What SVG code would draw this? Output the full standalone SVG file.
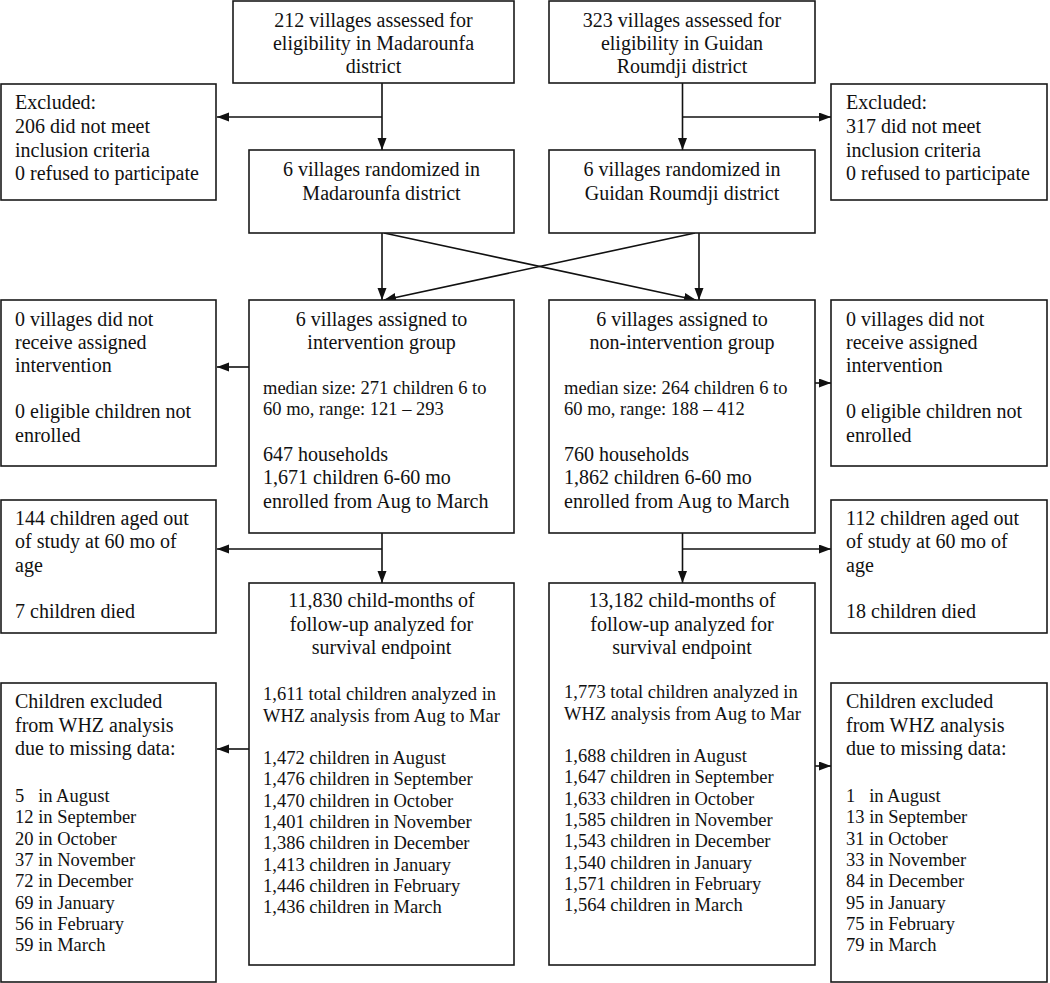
<svg xmlns="http://www.w3.org/2000/svg" width="1050" height="983" viewBox="0 0 1050 983">
<defs>
<style>
.box{fill:#fff;stroke:#1a1a1a;stroke-width:1.6}
.ln{fill:none;stroke:#111;stroke-width:1.6}
text{font-family:"Liberation Serif","Times New Roman",serif;font-size:20px;fill:#111}
.s{font-size:18.5px}
.c{text-anchor:middle}
</style>
<marker id="ah" markerUnits="userSpaceOnUse" markerWidth="12" markerHeight="10" refX="12" refY="4.5" orient="auto">
<path d="M0,0 L12,4.5 L0,9 z" fill="#111"/>
</marker>
</defs>
<rect width="1050" height="983" fill="#fff"/>

<g id="connectors">
<line class="ln" x1="382" y1="83" x2="382" y2="150" marker-end="url(#ah)"/>
<line class="ln" x1="382" y1="117" x2="217" y2="117" marker-end="url(#ah)"/>
<line class="ln" x1="682.5" y1="83" x2="682.5" y2="150" marker-end="url(#ah)"/>
<line class="ln" x1="682.5" y1="117" x2="831" y2="117" marker-end="url(#ah)"/>
<line class="ln" x1="382" y1="233" x2="382" y2="300" marker-end="url(#ah)"/>
<line class="ln" x1="699" y1="233" x2="699" y2="300" marker-end="url(#ah)"/>
<line class="ln" x1="384" y1="233" x2="696" y2="300" marker-end="url(#ah)"/>
<line class="ln" x1="695" y1="233" x2="384" y2="300" marker-end="url(#ah)"/>
<line class="ln" x1="249" y1="367" x2="217" y2="367" marker-end="url(#ah)"/>
<line class="ln" x1="815" y1="383" x2="831" y2="383" marker-end="url(#ah)"/>
<line class="ln" x1="382" y1="533" x2="382" y2="583" marker-end="url(#ah)"/>
<line class="ln" x1="382" y1="549" x2="217" y2="549" marker-end="url(#ah)"/>
<line class="ln" x1="682.5" y1="533" x2="682.5" y2="583" marker-end="url(#ah)"/>
<line class="ln" x1="682.5" y1="549" x2="831" y2="549" marker-end="url(#ah)"/>
<line class="ln" x1="249" y1="749" x2="217" y2="749" marker-end="url(#ah)"/>
<line class="ln" x1="815" y1="766" x2="831" y2="766" marker-end="url(#ah)"/>
</g>

<g id="assessed-madarounfa">
<rect class="box" x="233" y="1" width="281" height="82"/>
<text class="c" x="373.5" y="27">212 villages assessed for</text>
<text class="c" x="373.5" y="50">eligibility in Madarounfa</text>
<text class="c" x="373.5" y="73">district</text>
</g>

<g id="assessed-guidan">
<rect class="box" x="549" y="1" width="266" height="82"/>
<text class="c" x="682" y="27">323 villages assessed for</text>
<text class="c" x="682" y="50">eligibility in Guidan</text>
<text class="c" x="682" y="73">Roumdji district</text>
</g>

<g id="excluded-left">
<rect class="box" x="1" y="84" width="215" height="116"/>
<text x="15" y="109">Excluded:</text>
<text x="15" y="133">206 did not meet</text>
<text x="15" y="157">inclusion criteria</text>
<text x="15" y="180">0 refused to participate</text>
</g>

<g id="excluded-right">
<rect class="box" x="831" y="84" width="216" height="116"/>
<text x="846" y="109">Excluded:</text>
<text x="846" y="133">317 did not meet</text>
<text x="846" y="157">inclusion criteria</text>
<text x="846" y="180">0 refused to participate</text>
</g>

<g id="randomized-madarounfa">
<rect class="box" x="249" y="150" width="265" height="83"/>
<text class="c" x="381.5" y="176">6 villages randomized in</text>
<text class="c" x="381.5" y="200">Madarounfa district</text>
</g>

<g id="randomized-guidan">
<rect class="box" x="549" y="150" width="266" height="83"/>
<text class="c" x="682" y="176">6 villages randomized in</text>
<text class="c" x="682" y="200">Guidan Roumdji district</text>
</g>

<g id="notreceived-left">
<rect class="box" x="1" y="300" width="215" height="166"/>
<text x="15" y="326">0 villages did not</text>
<text x="15" y="349">receive assigned</text>
<text x="15" y="372">intervention</text>
<text x="15" y="418">0 eligible children not</text>
<text x="15" y="442">enrolled</text>
</g>

<g id="intervention">
<rect class="box" x="249" y="300" width="265" height="233"/>
<text class="c" x="381.5" y="326">6 villages assigned to</text>
<text class="c" x="381.5" y="349">intervention group</text>
<text class="s" x="263" y="394">median size: 271 children 6 to</text>
<text class="s" x="263" y="415">60 mo, range: 121 – 293</text>
<text x="263" y="461">647 households</text>
<text x="263" y="484">1,671 children 6-60 mo</text>
<text x="263" y="508">enrolled from Aug to March</text>
</g>

<g id="non-intervention">
<rect class="box" x="549" y="300" width="266" height="233"/>
<text class="c" x="682" y="326">6 villages assigned to</text>
<text class="c" x="682" y="349">non-intervention group</text>
<text class="s" x="564" y="394">median size: 264 children 6 to</text>
<text class="s" x="564" y="415">60 mo, range: 188 – 412</text>
<text x="564" y="461">760 households</text>
<text x="564" y="484">1,862 children 6-60 mo</text>
<text x="564" y="508">enrolled from Aug to March</text>
</g>

<g id="notreceived-right">
<rect class="box" x="831" y="300" width="216" height="166"/>
<text x="846" y="326">0 villages did not</text>
<text x="846" y="349">receive assigned</text>
<text x="846" y="372">intervention</text>
<text x="846" y="418">0 eligible children not</text>
<text x="846" y="442">enrolled</text>
</g>

<g id="agedout-left">
<rect class="box" x="1" y="500" width="215" height="133"/>
<text x="15" y="525">144 children aged out</text>
<text x="15" y="548">of study at 60 mo of</text>
<text x="15" y="572">age</text>
<text x="15" y="618">7 children died</text>
</g>

<g id="agedout-right">
<rect class="box" x="831" y="500" width="216" height="133"/>
<text x="846" y="525">112 children aged out</text>
<text x="846" y="548">of study at 60 mo of</text>
<text x="846" y="572">age</text>
<text x="846" y="618">18 children died</text>
</g>

<g id="followup-intervention">
<rect class="box" x="249" y="583" width="265" height="382"/>
<text class="c" x="381.5" y="607">11,830 child-months of</text>
<text class="c" x="381.5" y="631">follow-up analyzed for</text>
<text class="c" x="381.5" y="654">survival endpoint</text>
<text class="s" x="263" y="700">1,611 total children analyzed in</text>
<text class="s" x="263" y="722">WHZ analysis from Aug to Mar</text>
<text class="s" x="263" y="764">1,472 children in August</text>
<text class="s" x="263" y="785.3">1,476 children in September</text>
<text class="s" x="263" y="806.6">1,470 children in October</text>
<text class="s" x="263" y="827.9">1,401 children in November</text>
<text class="s" x="263" y="849.2">1,386 children in December</text>
<text class="s" x="263" y="870.5">1,413 children in January</text>
<text class="s" x="263" y="891.8">1,446 children in February</text>
<text class="s" x="263" y="913.1">1,436 children in March</text>
</g>

<g id="followup-non-intervention">
<rect class="box" x="549" y="583" width="266" height="382"/>
<text class="c" x="682" y="607">13,182 child-months of</text>
<text class="c" x="682" y="631">follow-up analyzed for</text>
<text class="c" x="682" y="654">survival endpoint</text>
<text class="s" x="564" y="698">1,773 total children analyzed in</text>
<text class="s" x="564" y="720">WHZ analysis from Aug to Mar</text>
<text class="s" x="564" y="762">1,688 children in August</text>
<text class="s" x="564" y="783.3">1,647 children in September</text>
<text class="s" x="564" y="804.6">1,633 children in October</text>
<text class="s" x="564" y="825.9">1,585 children in November</text>
<text class="s" x="564" y="847.2">1,543 children in December</text>
<text class="s" x="564" y="868.5">1,540 children in January</text>
<text class="s" x="564" y="889.8">1,571 children in February</text>
<text class="s" x="564" y="911.1">1,564 children in March</text>
</g>

<g id="whz-excluded-left">
<rect class="box" x="1" y="683" width="215" height="299"/>
<text x="15" y="708">Children excluded</text>
<text x="15" y="732">from WHZ analysis</text>
<text x="15" y="755">due to missing data:</text>
<text class="s" x="15" y="802" xml:space="preserve">5   in August</text>
<text class="s" x="15" y="823.3">12 in September</text>
<text class="s" x="15" y="844.6">20 in October</text>
<text class="s" x="15" y="865.9">37 in November</text>
<text class="s" x="15" y="887.2">72 in December</text>
<text class="s" x="15" y="908.5">69 in January</text>
<text class="s" x="15" y="929.8">56 in February</text>
<text class="s" x="15" y="951.1">59 in March</text>
</g>

<g id="whz-excluded-right">
<rect class="box" x="831" y="683" width="216" height="299"/>
<text x="846" y="708">Children excluded</text>
<text x="846" y="732">from WHZ analysis</text>
<text x="846" y="755">due to missing data:</text>
<text class="s" x="846" y="802" xml:space="preserve">1   in August</text>
<text class="s" x="846" y="823.3">13 in September</text>
<text class="s" x="846" y="844.6">31 in October</text>
<text class="s" x="846" y="865.9">33 in November</text>
<text class="s" x="846" y="887.2">84 in December</text>
<text class="s" x="846" y="908.5">95 in January</text>
<text class="s" x="846" y="929.8">75 in February</text>
<text class="s" x="846" y="951.1">79 in March</text>
</g>
</svg>
